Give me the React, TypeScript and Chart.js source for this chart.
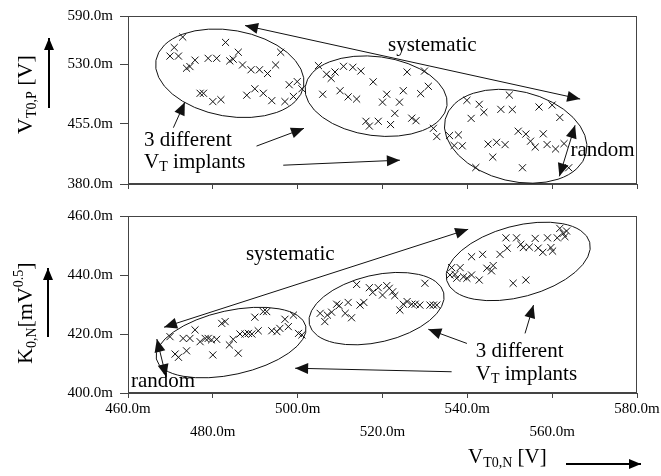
import React, { useEffect, useRef } from 'react';
import { Chart, registerables } from 'chart.js';
Chart.register(...registerables);

// ---------- data: top panel (V_T0,N vs V_T0,P) ----------
const topX1 = [472.9, 470.9, 469.9, 471.9, 483.0, 473.8, 474.6, 475.8, 478.9, 480.9, 484.0, 484.8, 486.0, 487.0, 489.0, 491.0, 492.9, 494.8, 496.0, 477.0, 477.8, 480.0, 481.9, 488.0, 489.9, 491.9, 493.9, 497.0, 499.0, 498.0, 499.9, 501.0];
const topY1 = [563.7, 550.6, 539.9, 539.9, 557.0, 524.7, 526.8, 534.8, 537.1, 537.1, 533.9, 536.0, 544.7, 528.8, 522.8, 522.8, 518.1, 528.8, 544.7, 493.4, 493.4, 483.0, 485.4, 491.0, 499.0, 493.4, 484.2, 483.0, 489.4, 504.1, 508.0, 499.0];
const topX2 = [504.9, 506.8, 507.9, 508.8, 510.8, 513.0, 514.9, 517.8, 505.9, 510.0, 511.9, 513.9, 521.0, 520.0, 524.0, 524.9, 522.9, 529.0, 530.8, 525.8, 529.9, 516.1, 516.9, 519.0, 521.9, 526.9, 527.9, 532.0, 532.8];
const topY2 = [528.0, 517.2, 512.1, 520.0, 527.1, 525.9, 521.2, 507.7, 492.2, 496.6, 488.9, 486.2, 492.2, 482.3, 482.3, 496.6, 468.3, 493.0, 502.1, 520.0, 521.2, 458.4, 452.4, 458.4, 454.3, 462.3, 459.1, 449.6, 439.3];
const topX3 = [539.9, 542.8, 543.9, 540.9, 547.9, 550.6, 549.9, 556.9, 560.0, 561.8, 535.8, 537.9, 536.9, 538.8, 544.9, 546.9, 548.9, 546.0, 552.0, 553.8, 554.9, 556.0, 557.9, 558.8, 560.8, 562.8, 542.0, 553.0, 563.9];
const topY3 = [484.6, 479.6, 469.7, 462.0, 473.3, 473.1, 491.2, 476.3, 478.7, 463.2, 440.5, 441.4, 428.1, 427.7, 429.9, 432.1, 429.2, 413.6, 446.0, 442.4, 433.5, 426.2, 442.7, 429.3, 423.8, 430.5, 400.6, 400.3, 400.3];

// ---------- data: bottom panel (V_T0,N vs K_0,N) ----------
const botX1 = [469.9, 473.0, 474.6, 475.8, 477.0, 478.2, 478.9, 479.7, 480.9, 482.1, 482.9, 483.9, 484.8, 486.4, 487.6, 488.4, 489.2, 490.7, 489.9, 491.9, 492.7, 493.9, 495.1, 495.8, 497.0, 497.8, 499.0, 500.2, 501.0, 471.1, 471.9, 473.8, 480.0, 486.0];
const botY1 = [419.1, 418.5, 418.5, 421.4, 417.4, 418.5, 418.5, 418.0, 418.2, 423.6, 424.2, 416.3, 418.2, 420.0, 420.0, 420.2, 420.0, 421.1, 425.7, 427.6, 427.6, 421.1, 420.8, 421.9, 425.0, 422.5, 426.4, 420.2, 419.7, 413.2, 412.1, 414.3, 412.9, 413.5];
const botX2 = [505.3, 506.4, 507.0, 508.0, 509.2, 509.8, 511.9, 511.2, 512.7, 513.9, 514.7, 515.6, 516.9, 517.7, 519.0, 520.0, 521.0, 521.6, 522.4, 522.9, 524.1, 524.9, 525.8, 526.9, 527.7, 528.8, 530.0, 531.2, 532.0, 532.8];
const botY2 = [427.0, 424.2, 426.4, 427.4, 430.1, 429.6, 430.7, 427.0, 425.5, 436.8, 429.8, 430.7, 435.7, 434.1, 435.7, 433.2, 436.4, 435.5, 434.3, 433.0, 428.1, 430.1, 431.0, 430.1, 430.1, 429.8, 437.2, 429.8, 429.8, 429.8];
const botX3 = [536.3, 538.3, 535.9, 537.1, 537.5, 539.1, 539.9, 541.0, 542.8, 544.6, 546.1, 545.7, 541.0, 543.6, 547.7, 549.4, 549.1, 551.6, 552.6, 553.2, 554.6, 556.0, 556.7, 557.8, 558.9, 559.7, 560.1, 561.2, 561.8, 562.6, 563.4, 563.0, 550.8, 553.8];
const botY3 = [442.5, 442.5, 440.0, 440.2, 438.9, 439.4, 438.9, 440.0, 438.3, 442.3, 443.2, 441.4, 446.2, 447.0, 447.0, 449.1, 452.6, 452.6, 450.4, 449.3, 449.5, 452.4, 449.1, 447.7, 452.6, 449.3, 448.1, 452.6, 455.8, 454.1, 454.9, 453.0, 437.2, 438.3];

// ---------- axes ----------
const xTicks = [460, 480, 500, 520, 540, 560, 580];
const yTopTicks = [380, 455, 530, 590];
const yBotTicks = [400, 420, 440, 460];

const SERIF = '"Liberation Serif", "DejaVu Serif", serif';
const AXIS = '#444';
const INK = '#111';

type Part = [string, number, number];
type Ann = {
  ellipses: { cx: number; cy: number; rx: number; ry: number; rot: number }[];
  arrows: { x1: number; y1: number; x2: number; y2: number; both?: boolean }[];
  texts: { x: number; y: number; parts: Part[] }[];
};

// annotations, in data coordinates (radii in px)
const topAnn: Ann = {
  ellipses: [
    { cx: 484.0, cy: 518.4, rx: 75, ry: 43, rot: 10 },
    { cx: 518.5, cy: 489.8, rx: 71.5, ry: 39.5, rot: 7.6 },
    { cx: 551.4, cy: 439.7, rx: 72.5, ry: 45, rot: 13.6 },
  ],
  arrows: [
    { x1: 487.6, y1: 578.1, x2: 566.6, y2: 486.2, both: true },
    { x1: 565.4, y1: 453.4, x2: 561.7, y2: 389.6, both: true },
    { x1: 470.7, y1: 450.4, x2: 473.4, y2: 482.3 },
    { x1: 490.3, y1: 427.4, x2: 501.5, y2: 449.6 },
    { x1: 496.6, y1: 403.5, x2: 524.1, y2: 409.8 },
  ],
  texts: [
    { x: 521.3, y: 545.9, parts: [['systematic', 21, 0]] },
    { x: 564.3, y: 414.6, parts: [['random', 21, 0]] },
    { x: 463.8, y: 427.7, parts: [['3 different', 21, 0]] },
    { x: 463.8, y: 400.6, parts: [['V', 21, 0], ['T', 14, 3], [' implants', 21, 0]] },
  ],
};
const botAnn: Ann = {
  ellipses: [
    { cx: 484.3, cy: 417.1, rx: 76.5, ry: 32, rot: -12.4 },
    { cx: 518.6, cy: 428.6, rx: 69, ry: 33.5, rot: -13.2 },
    { cx: 552.0, cy: 444.6, rx: 74, ry: 35.5, rot: -15 },
  ],
  arrows: [
    { x1: 468.5, y1: 422.3, x2: 540.2, y2: 455.5, both: true },
    { x1: 466.8, y1: 418.3, x2: 469.0, y2: 405.4, both: true },
    { x1: 539.9, y1: 416.8, x2: 530.8, y2: 421.6 },
    { x1: 553.6, y1: 420.2, x2: 555.6, y2: 429.8 },
    { x1: 536.3, y1: 407.2, x2: 499.4, y2: 408.4 },
  ],
  texts: [
    { x: 487.8, y: 445.1, parts: [['systematic', 21, 0]] },
    { x: 460.7, y: 402.0, parts: [['random', 21, 0]] },
    { x: 542.0, y: 412.3, parts: [['3 different', 21, 0]] },
    { x: 542.0, y: 404.4, parts: [['V', 21, 0], ['T', 14, 3], [' implants', 21, 0]] },
  ],
};

function drawRich(ctx: CanvasRenderingContext2D, x: number, y: number, parts: Part[]) {
  ctx.textBaseline = 'alphabetic';
  ctx.textAlign = 'left';
  let cx = x;
  for (const [t, size, dy] of parts) {
    ctx.font = `${size}px ${SERIF}`;
    ctx.fillText(t, cx, y + dy);
    cx += ctx.measureText(t).width;
  }
}

function head(ctx: CanvasRenderingContext2D, fx: number, fy: number, tx: number, ty: number, len = 12, hw = 5) {
  const a = Math.atan2(ty - fy, tx - fx);
  ctx.beginPath();
  ctx.moveTo(tx, ty);
  ctx.lineTo(tx - len * Math.cos(a) + hw * Math.sin(a), ty - len * Math.sin(a) - hw * Math.cos(a));
  ctx.lineTo(tx - len * Math.cos(a) - hw * Math.sin(a), ty - len * Math.sin(a) + hw * Math.cos(a));
  ctx.closePath();
  ctx.fill();
}

function arrow(ctx: CanvasRenderingContext2D, x1: number, y1: number, x2: number, y2: number, both: boolean, lw = 1, len = 13, hw = 5.5) {
  ctx.lineWidth = lw;
  ctx.beginPath();
  ctx.moveTo(x1, y1);
  ctx.lineTo(x2, y2);
  ctx.stroke();
  head(ctx, x1, y1, x2, y2, len, hw);
  if (both) head(ctx, x2, y2, x1, y1, len, hw);
}

function makePlugin(ann: Ann, titles: (ctx: CanvasRenderingContext2D) => void) {
  return {
    id: 'decor',
    afterDraw(chart: any) {
      const ctx: CanvasRenderingContext2D = chart.ctx;
      const xs = chart.scales.x;
      const ys = chart.scales.y;
      const a = chart.chartArea;
      ctx.save();
      ctx.strokeStyle = AXIS;
      ctx.lineWidth = 1;
      ctx.strokeRect(Math.round(a.left) + 0.5, Math.round(a.top) + 0.5, Math.round(a.right - a.left) - 1, Math.round(a.bottom - a.top) - 1);
      ctx.strokeStyle = INK;
      ctx.fillStyle = INK;
      ctx.lineWidth = 1;
      for (const e of ann.ellipses) {
        ctx.beginPath();
        ctx.ellipse(xs.getPixelForValue(e.cx), ys.getPixelForValue(e.cy), e.rx, e.ry, (e.rot * Math.PI) / 180, 0, Math.PI * 2);
        ctx.stroke();
      }
      for (const r of ann.arrows) {
        arrow(ctx, xs.getPixelForValue(r.x1), ys.getPixelForValue(r.y1), xs.getPixelForValue(r.x2), ys.getPixelForValue(r.y2), !!r.both);
      }
      ctx.fillStyle = '#000';
      for (const t of ann.texts) {
        drawRich(ctx, xs.getPixelForValue(t.x), ys.getPixelForValue(t.y), t.parts);
      }
      titles(ctx);
      ctx.restore();
    },
  };
}

function makeOptions(yMin: number, yMax: number, yTicks: number[], showX: boolean, padTop: number, xHeight: number) {
  return {
    responsive: false,
    animation: false as const,
    layout: { padding: { left: 0, right: 24, top: padTop, bottom: 0 } },
    plugins: { legend: { display: false }, tooltip: { enabled: false } },
    scales: {
      x: {
        type: 'linear' as const,
        min: 460,
        max: 580,
        afterBuildTicks: (s: any) => { s.ticks = xTicks.map((v) => ({ value: v })); },
        afterFit: (s: any) => { s.height = xHeight; },
        ticks: {
          display: showX,
          autoSkip: false,
          maxRotation: 0,
          minRotation: 0,
          padding: 0,
          color: '#000',
          font: { family: SERIF, size: 15, lineHeight: 1.5 },
          callback: (v: any, i: number) => {
            const s = Number(v).toFixed(1) + 'm';
            return i % 2 === 0 ? s : ['', s];
          },
        },
        grid: { display: true, drawOnChartArea: false, drawTicks: true, tickLength: 5, color: AXIS, tickColor: AXIS },
        border: { display: true, color: AXIS, width: 1 },
      },
      y: {
        type: 'linear' as const,
        min: yMin,
        max: yMax,
        afterBuildTicks: (s: any) => { s.ticks = yTicks.map((v) => ({ value: v })); },
        afterFit: (s: any) => { s.width = 128; },
        ticks: {
          padding: 7,
          color: '#000',
          font: { family: SERIF, size: 15 },
          callback: (v: any) => Number(v).toFixed(1) + 'm',
        },
        grid: { display: true, drawOnChartArea: false, drawTicks: true, tickLength: 8, color: AXIS, tickColor: AXIS },
        border: { display: true, color: AXIS, width: 1 },
      },
    },
  };
}

function ds(xs: number[], ys: number[]) {
  return {
    data: xs.map((x, i) => ({ x, y: ys[i] })),
    showLine: false,
    pointStyle: 'crossRot' as const,
    pointRadius: 5,
    pointBorderWidth: 1,
    borderColor: INK,
    backgroundColor: 'rgba(0,0,0,0)',
  };
}

export default function App() {
  const topRef = useRef<HTMLCanvasElement>(null);
  const botRef = useRef<HTMLCanvasElement>(null);

  useEffect(() => {
    const topTitles = (ctx: CanvasRenderingContext2D) => {
      ctx.fillStyle = '#000';
      ctx.save();
      ctx.translate(32, 134);
      ctx.rotate(-Math.PI / 2);
      drawRich(ctx, 0, 0, [['V', 22, 0], ['T0,P', 14, 4], [' [V]', 22, 0]]);
      ctx.restore();
      ctx.strokeStyle = '#000';
      arrow(ctx, 49, 108, 49, 38, false, 2, 12, 5);
    };
    const botTitles = (ctx: CanvasRenderingContext2D) => {
      ctx.fillStyle = '#000';
      ctx.save();
      ctx.translate(32, 164);
      ctx.rotate(-Math.PI / 2);
      drawRich(ctx, 0, 0, [['K', 22, 0], ['0,N', 14, 4], ['[mV', 22, 0], ['0.5', 14, -9], [']', 22, 0]]);
      ctx.restore();
      ctx.strokeStyle = '#000';
      arrow(ctx, 48, 137, 48, 68, false, 2, 12, 5);
      drawRich(ctx, 468, 263, [['V', 21, 0], ['T0,N', 14, 4], [' [V]', 21, 0]]);
      arrow(ctx, 566, 264, 641, 264, false, 2, 12, 5);
    };

    const c1 = new Chart(topRef.current as HTMLCanvasElement, {
      type: 'scatter',
      data: { datasets: [ds(topX1, topY1), ds(topX2, topY2), ds(topX3, topY3)] },
      options: makeOptions(380, 590, yTopTicks, false, 13, 11) as any,
      plugins: [makePlugin(topAnn, topTitles)],
    });
    const c2 = new Chart(botRef.current as HTMLCanvasElement, {
      type: 'scatter',
      data: { datasets: [ds(botX1, botY1), ds(botX2, botY2), ds(botX3, botY3)] },
      options: makeOptions(400, 460, yBotTicks, true, 16, 83) as any,
      plugins: [makePlugin(botAnn, botTitles)],
    });
    return () => {
      c1.destroy();
      c2.destroy();
    };
  }, []);

  return (
    <div style={{ position: 'absolute', left: 0, top: 0, width: 661, height: 476, background: '#fff' }}>
      <canvas ref={topRef} width={661} height={200} style={{ position: 'absolute', left: 0, top: 0, width: 661, height: 200 }} />
      <canvas ref={botRef} width={661} height={276} style={{ position: 'absolute', left: 0, top: 200, width: 661, height: 276 }} />
    </div>
  );
}
